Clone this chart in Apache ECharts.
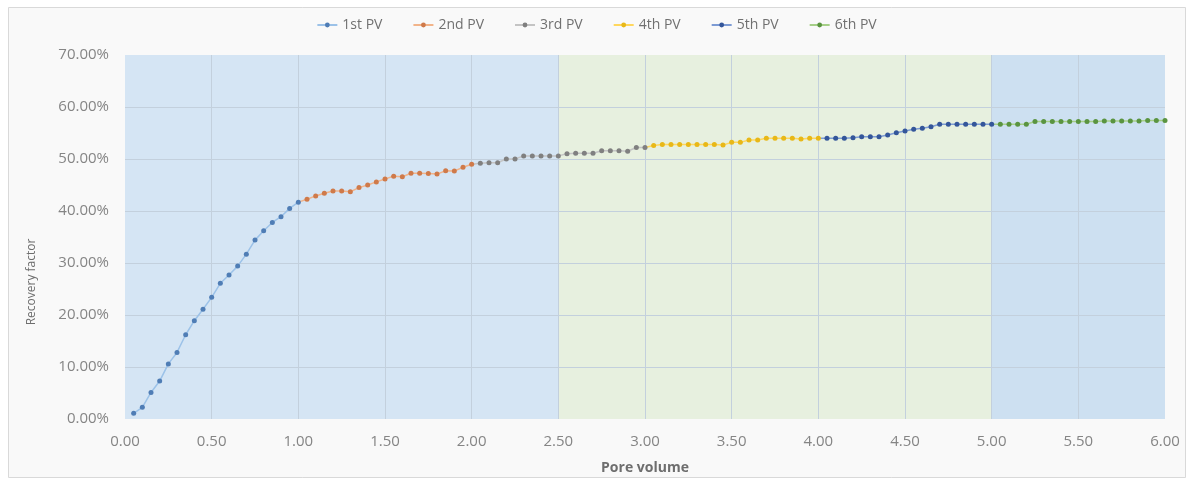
<!DOCTYPE html>
<html>
<head>
<meta charset="utf-8">
<script src="https://cdn.jsdelivr.net/npm/echarts@6/dist/echarts.min.js"></script>
<style>
html,body{margin:0;padding:0;background:#fff;}
#c{width:1193px;height:482px;}
</style>
</head>
<body>
<div id="c"></div>
<script>
// Data
const seriesNames = ['1st PV','2nd PV','3rd PV','4th PV','5th PV','6th PV'];
const pv1 = [0.05,0.10,0.15,0.20,0.25,0.30,0.35,0.40,0.45,0.50,0.55,0.60,0.65,0.70,0.75,0.80,0.85,0.90,0.95,1.00];
const rf1 = [1.1,2.25,5.1,7.3,10.6,12.8,16.2,18.9,21.1,23.4,26.1,27.7,29.4,31.7,34.4,36.2,37.8,38.9,40.5,41.7];
const pv2 = [1.05,1.10,1.15,1.20,1.25,1.30,1.35,1.40,1.45,1.50,1.55,1.60,1.65,1.70,1.75,1.80,1.85,1.90,1.95,2.00];
const rf2 = [42.25,42.9,43.4,43.85,43.85,43.7,44.5,45.0,45.6,46.15,46.7,46.6,47.25,47.25,47.2,47.1,47.75,47.7,48.4,49.0];
const pv3 = [2.05,2.10,2.15,2.20,2.25,2.30,2.35,2.40,2.45,2.50,2.55,2.60,2.65,2.70,2.75,2.80,2.85,2.90,2.95,3.00];
const rf3 = [49.2,49.3,49.3,50.0,50.0,50.6,50.6,50.6,50.6,50.6,51.0,51.1,51.1,51.1,51.6,51.6,51.6,51.5,52.2,52.2];
const pv4 = [3.05,3.10,3.15,3.20,3.25,3.30,3.35,3.40,3.45,3.50,3.55,3.60,3.65,3.70,3.75,3.80,3.85,3.90,3.95,4.00];
const rf4 = [52.6,52.8,52.8,52.8,52.8,52.8,52.8,52.8,52.7,53.2,53.2,53.65,53.65,54.0,54.0,54.0,54.0,53.85,54.0,54.0];
const pv5 = [4.05,4.10,4.15,4.20,4.25,4.30,4.35,4.40,4.45,4.50,4.55,4.60,4.65,4.70,4.75,4.80,4.85,4.90,4.95,5.00];
const rf5 = [54.0,54.0,54.0,54.1,54.3,54.3,54.3,54.6,55.05,55.4,55.7,55.9,56.2,56.7,56.7,56.7,56.7,56.7,56.7,56.7];
const pv6 = [5.05,5.10,5.15,5.20,5.25,5.30,5.35,5.40,5.45,5.50,5.55,5.60,5.65,5.70,5.75,5.80,5.85,5.90,5.95,6.00];
const rf6 = [56.7,56.7,56.7,56.7,57.2,57.2,57.2,57.2,57.2,57.2,57.2,57.2,57.3,57.3,57.3,57.3,57.3,57.4,57.4,57.4];
const bands = [[0,2.5],[2.5,5],[5,6]];
const xTicks = [0.5,1,1.5,2,2.5,3,3.5,4,4.5,5,5.5];
const yTicks = [10,20,30,40,50,60];

const pvs = [pv1,pv2,pv3,pv4,pv5,pv6];
const rfs = [rf1,rf2,rf3,rf4,rf5,rf6];
const markerColors = ['#4f7db5','#cf7a4a','#808080','#e8b818','#34569a','#5a9440'];
const lineColors = ['#9cc2e8','#f2b48a','#c4c4c4','#ffd75e','#7d9bd4','#a6cf88'];
const bandColors = ['#d5e5f4','#e7f0df','#cde0f1'];
const gridColor = '#c3d0dd';

const series = seriesNames.map((name,i)=>{
  const data = pvs[i].map((x,k)=>[x, rfs[i][k]]);
  if (i>0) {
    const p = pvs[i-1], r = rfs[i-1];
    data.unshift({value:[p[p.length-1], r[r.length-1]], symbolSize:0});
  }
  return {
    name, type:'line', data,
    symbol:'circle', symbolSize:5,
    itemStyle:{color:markerColors[i]},
    lineStyle:{color:lineColors[i], width:1.5},
    z: 3
  };
});
// background bands plus grid lines drawn over them (below the data series)
series.unshift({
  name:'bands', type:'line', data:[], z:1, silent:true,
  markArea:{
    silent:true, z:1,
    data: bands.map((b,j)=>[{xAxis:b[0], itemStyle:{color:bandColors[j]}},{xAxis:b[1]}])
  },
  markLine:{
    silent:true, z:2, symbol:['none','none'], label:{show:false},
    lineStyle:{color:gridColor, width:1, type:'solid'},
    data: xTicks.map(v=>({xAxis:v})).concat(yTicks.map(v=>({yAxis:v})))
  }
});

const chart = echarts.init(document.getElementById('c'));
chart.setOption({
  backgroundColor:'#ffffff',
  animation:false,
  textStyle:{fontFamily:'Open Sans, sans-serif'},
  graphic:[{
    type:'rect', left:8, top:7, shape:{width:1177, height:470},
    style:{fill:'#f9f9f9', stroke:'#d9d9d9', lineWidth:1}, z:-10
  },{
    type:'text', x:32, y:282, rotation:Math.PI/2, z:5,
    style:{text:'Recovery factor', fill:'#6e6e6e', font:'12px "Liberation Sans Narrow", "Open Sans", sans-serif', align:'center', verticalAlign:'middle'}
  }],
  legend:{
    top:13, left:'center', itemWidth:20, itemHeight:6, itemGap:30,
    textStyle:{color:'#707070', fontSize:14},
    data: seriesNames
  },
  grid:{left:125, right:28, top:55, bottom:63, containLabel:false},
  xAxis:{
    type:'value', min:0, max:6, interval:0.5,
    name:'Pore volume', nameLocation:'middle', nameGap:42,
    nameTextStyle:{color:'#6e6e6e', fontSize:14, fontWeight:'bold'},
    axisLine:{show:false}, axisTick:{show:false},
    axisLabel:{color:'#858585', fontSize:15, margin:15, formatter:v=>v.toFixed(2)},
    splitLine:{show:false}
  },
  yAxis:{
    type:'value', min:0, max:70, interval:10,
    axisLine:{show:false}, axisTick:{show:false},
    axisLabel:{color:'#858585', fontSize:15, margin:16, formatter:v=>v.toFixed(2)+'%'},
    splitLine:{show:false}
  },
  series
});
</script>
</body>
</html>
